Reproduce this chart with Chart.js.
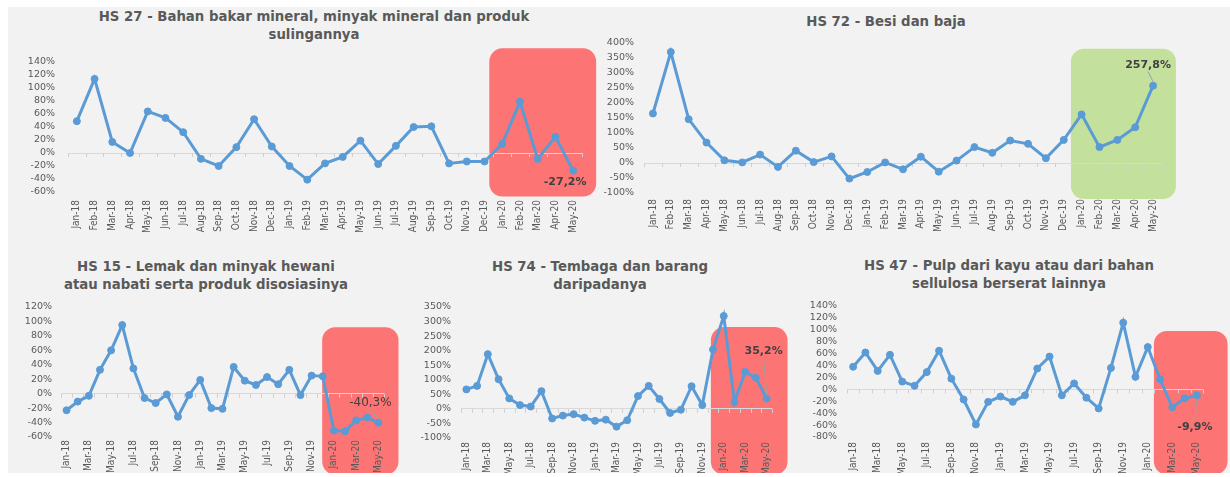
<!DOCTYPE html>
<html>
<head>
<meta charset="utf-8">
<script src="https://cdn.jsdelivr.net/npm/chart.js@4"></script>
<style>
  body { margin: 0; background: #fff; width: 1230px; height: 477px; overflow: hidden; position: relative; }
  #panel { position: absolute; left: 8px; top: 7px; width: 1222px; height: 466px; background: #f2f2f2; }
  canvas { position: absolute; }
  .title { position: absolute; width: 600px; text-align: center; white-space: nowrap;
           font: bold 13.3px/18px "DejaVu Sans", sans-serif; color: #595959; }
</style>
</head>
<body>
<div id="panel"></div>
<div class="title" style="left:14px;top:8px">HS 27 - Bahan bakar mineral, minyak mineral dan produk<br>sulingannya</div>
<div class="title" style="left:586px;top:13px">HS 72 - Besi dan baja</div>
<div class="title" style="left:-94px;top:258px">HS 15 - Lemak dan minyak hewani<br>atau nabati serta produk disosiasinya</div>
<div class="title" style="left:300px;top:258px">HS 74 - Tembaga dan barang<br>daripadanya</div>
<div class="title" style="left:709px;top:257px">HS 47 - Pulp dari kayu atau dari bahan<br>sellulosa berserat lainnya</div>
<canvas id="c27" width="592" height="228" style="left:8px;top:7px"></canvas>
<canvas id="c72" width="630" height="228" style="left:600px;top:7px"></canvas>
<canvas id="c15" width="397" height="238" style="left:8px;top:235px"></canvas>
<canvas id="c74" width="395" height="238" style="left:405px;top:235px"></canvas>
<canvas id="c47" width="430" height="238" style="left:800px;top:235px"></canvas>
<script>
// monthly growth (%), Jan-18 .. May-20
const months = ['Jan-18','Feb-18','Mar-18','Apr-18','May-18','Jun-18','Jul-18','Aug-18','Sep-18','Oct-18','Nov-18','Dec-18',
  'Jan-19','Feb-19','Mar-19','Apr-19','May-19','Jun-19','Jul-19','Aug-19','Sep-19','Oct-19','Nov-19','Dec-19',
  'Jan-20','Feb-20','Mar-20','Apr-20','May-20'];

const hs27 = [49,114,17,0,64,54,32,-9,-20,9,52,10,-20,-41,-16,-6,19,-17,11,40,41,-16,-13,-13,14,79,-9,25,-27.2];
const hs72 = [165,370,146,68,9,2,28,-13,41,3,22,-52,-30,2,-21,21,-29,8,53,34,75,64,16,77,162,53,77,119,257.8];
const hs15 = [-23,-11,-3,33,60,95,35,-6,-13,-1,-32,-2,19,-20,-21,37,18,12,23,13,33,-2,25,24,-51,-52,-37,-33,-40.3];
const hs74 = [67,79,188,102,36,13,8,61,-33,-23,-18,-30,-41,-37,-61,-39,44,79,34,-14,-3,78,13,204,319,24,127,107,35.2];
const hs47 = [38,62,31,58,13,6,29,65,18,-17,-59,-21,-12,-21,-10,35,55,-10,10,-14,-32,36,112,21,71,17,-30,-15,-9.9];

const BLUE = '#5b9bd5';
const RED = 'rgb(252,116,116)';
const GREEN = 'rgb(196,224,157)';
const GREY = '#595959';

// rounded box behind the 2020 months
const highlight = {
  id: 'highlight',
  beforeDraw(chart, args, opts) {
    if (!opts.color) return;
    const { ctx, scales: { x, y } } = chart;
    const x0 = x.getPixelForValue(opts.from), x1 = x.getPixelForValue(opts.to);
    const y0 = y.getPixelForValue(opts.top), y1 = y.getPixelForValue(opts.bottom);
    ctx.save();
    ctx.fillStyle = opts.color;
    ctx.beginPath();
    ctx.roundRect(x0, y0, x1 - x0, y1 - y0, 13);
    ctx.fill();
    ctx.restore();
  }
};

// small tick marks hanging under the 0% line
const zeroTicks = {
  id: 'zeroTicks',
  beforeDatasetsDraw(chart) {
    const { ctx, scales: { x, y } } = chart;
    const y0 = y.getPixelForValue(0);
    ctx.save();
    ctx.strokeStyle = '#d0d0d0';
    ctx.lineWidth = 1;
    ctx.beginPath();
    for (let i = 0; i <= chart.data.labels.length; i++) {
      const px = Math.round(x.getPixelForValue(i - 0.5)) + 0.5;
      ctx.moveTo(px, y0);
      ctx.lineTo(px, y0 + 4);
    }
    ctx.stroke();
    ctx.restore();
  }
};

// label on the last value
const valueNote = {
  id: 'valueNote',
  afterDatasetsDraw(chart, args, opts) {
    const { ctx } = chart;
    const values = chart.data.datasets[0].data;
    const i = values.length - 1;
    const pt = chart.getDatasetMeta(0).data[i];
    const tx = pt.x + opts.dx, ty = pt.y + opts.dy;
    ctx.save();
    if (opts.lead) {
      const s = opts.dy < 0 ? 1 : -1;
      ctx.strokeStyle = '#a0a0a0';
      ctx.lineWidth = 1;
      ctx.beginPath();
      ctx.moveTo(tx, ty + s * 7);
      ctx.lineTo(pt.x, pt.y - s * 4);
      ctx.stroke();
    }
    ctx.font = opts.font;
    ctx.fillStyle = '#404040';
    ctx.textAlign = 'center';
    ctx.textBaseline = 'middle';
    ctx.fillText(values[i].toFixed(1).replace('.', ',') + '%', tx, ty);
    ctx.restore();
  }
};

const charts = [
  { id: 'c27', values: hs27, min: -60, max: 140, step: 20,
    pad: { left: 0, right: 18, top: 55, bottom: 0 }, yW: 60, yPad: 13, xH: 43, xPad: 8, every: 1,
    box: { color: RED, from: 23.27, to: 29.3, top: 161, bottom: -67 },
    note: { dx: -8, dy: 11, font: 'bold 11px "DejaVu Sans"', lead: false } },
  { id: 'c72', values: hs72, min: -100, max: 400, step: 50,
    pad: { left: 0, right: 68, top: 36, bottom: 0 }, yW: 44, yPad: 10, xH: 42, xPad: 6, every: 1,
    box: { color: GREEN, from: 23.4, to: 29.28, top: 381, bottom: -120 },
    note: { dx: -5, dy: -21, font: 'bold 11px "DejaVu Sans"', lead: true } },
  { id: 'c15', values: hs15, min: -60, max: 120, step: 20,
    pad: { left: 0, right: 21, top: 72, bottom: 0 }, yW: 53, yPad: 9, xH: 36, xPad: 3, every: 2,
    box: { color: RED, from: 22.95, to: 29.8, top: 92, bottom: -112 },
    note: { dx: -8, dy: -20, font: '12px "DejaVu Sans"', lead: true } },
  { id: 'c74', values: hs74, min: -100, max: 350, step: 50,
    pad: { left: 0, right: 28, top: 72, bottom: 0 }, yW: 56, yPad: 10, xH: 35, xPad: 4, every: 2,
    box: { color: RED, from: 22.8, to: 29.95, top: 281, bottom: -226 },
    note: { dx: -3, dy: -48, font: 'bold 11px "DejaVu Sans"', lead: true } },
  { id: 'c47', values: hs47, min: -80, max: 140, step: 20,
    pad: { left: 0, right: 27, top: 71, bottom: 0 }, yW: 47, yPad: 10, xH: 36, xPad: 5, every: 2,
    box: { color: RED, from: 24.5, to: 30.5, top: 98, bottom: -143 },
    note: { dx: -2, dy: 32, font: 'bold 11px "DejaVu Sans"', lead: true } }
];

function makeChart(cfg) {
  return new Chart(document.getElementById(cfg.id), {
    type: 'line',
    data: {
      labels: months,
      datasets: [{
        data: cfg.values,
        borderColor: BLUE,
        backgroundColor: BLUE,
        borderWidth: 3,
        pointRadius: 3.5,
        pointBorderWidth: 1,
        tension: 0
      }]
    },
    options: {
      responsive: false,
      animation: false,
      layout: { padding: cfg.pad },
      plugins: {
        legend: { display: false },
        tooltip: { enabled: false },
        highlight: cfg.box,
        valueNote: cfg.note
      },
      scales: {
        x: {
          offset: true,
          border: { display: false },
          grid: { display: false, drawTicks: false },
          afterFit: s => { s.height = cfg.xH; },
          ticks: {
            autoSkip: false,
            minRotation: 90,
            maxRotation: 90,
            padding: cfg.xPad,
            color: GREY,
            font: { family: '"Liberation Sans Narrow", "DejaVu Sans Condensed", sans-serif', size: 10 },
            callback(v, i) { return i % cfg.every === 0 ? this.getLabelForValue(v) : ''; }
          }
        },
        y: {
          min: cfg.min,
          max: cfg.max,
          border: { display: false },
          afterFit: s => { s.width = cfg.yW; },
          grid: {
            drawTicks: false,
            color: c => c.tick.value === 0 ? '#d9d9d9' : 'rgba(0,0,0,0)'
          },
          ticks: {
            stepSize: cfg.step,
            autoSkip: false,
            padding: cfg.yPad,
            color: GREY,
            font: { family: 'DejaVu Sans', size: 9.5 },
            callback: v => v + '%'
          }
        }
      }
    },
    plugins: [highlight, zeroTicks, valueNote]
  });
}

charts.forEach(makeChart);
</script>
</body>
</html>
